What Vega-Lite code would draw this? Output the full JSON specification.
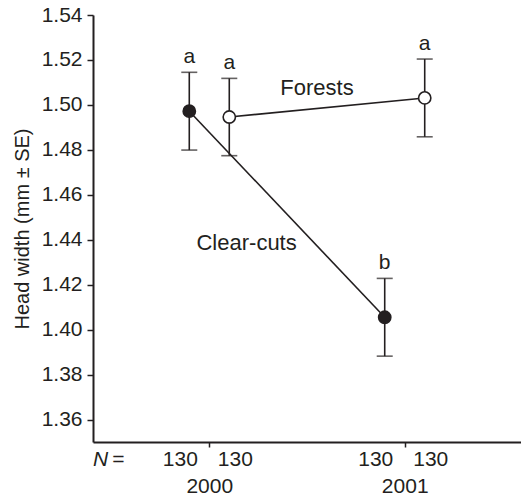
{
  "$schema": "https://vega.github.io/schema/vega-lite/v6.json",
  "width": 428,
  "height": 427,
  "autosize": {"type": "none"},
  "padding": {"left": 93, "top": 15, "right": 0, "bottom": 56},
  "background": "white",
  "config": {
    "view": {"stroke": null},
    "font": "Liberation Sans",
    "text": {"font": "Liberation Sans", "fontSize": 21, "color": "#231f20"},
    "axis": {
      "domainColor": "#231f20",
      "domainWidth": 2,
      "tickColor": "#231f20",
      "tickWidth": 1.5,
      "labelColor": "#231f20",
      "labelFont": "Liberation Sans",
      "labelFontSize": 21,
      "titleColor": "#231f20",
      "titleFont": "Liberation Sans",
      "titleFontSize": 20,
      "titleFontWeight": "normal",
      "grid": false
    }
  },
  "datasets": {
    "means": [
      {"year": 2000, "habitat": "Clear-cuts", "mean": 1.4972, "lo": 1.4799, "hi": 1.5145, "n": 130, "letter": "a"},
      {"year": 2000, "habitat": "Forests", "mean": 1.4946, "lo": 1.4774, "hi": 1.5118, "n": 130, "letter": "a"},
      {"year": 2001, "habitat": "Clear-cuts", "mean": 1.4055, "lo": 1.3882, "hi": 1.4228, "n": 130, "letter": "b"},
      {"year": 2001, "habitat": "Forests", "mean": 1.5031, "lo": 1.4858, "hi": 1.5204, "n": 130, "letter": "a"}
    ],
    "labels": [
      {"x": 2000.551, "y": 1.5075, "label": "Forests"},
      {"x": 2000.191, "y": 1.4387, "label": "Clear-cuts"}
    ]
  },
  "resolve": {"scale": {"x": "independent"}, "axis": {"x": "independent"}},
  "layer": [
    {
      "data": {"name": "means"},
      "mark": {"type": "line", "color": "#231f20", "strokeWidth": 1.6},
      "encoding": {
        "x": {
          "field": "year", "type": "ordinal",
          "scale": {"type": "point", "domain": [2000, 2001], "padding": 0.595},
          "axis": {"title": null, "tickSize": 5, "labelPadding": 28, "labelAngle": 0, "domainWidth": 2}
        },
        "y": {
          "field": "mean", "type": "quantitative",
          "scale": {"domain": [1.35, 1.54], "nice": false, "zero": false},
          "axis": {"values": [1.36, 1.38, 1.4, 1.42, 1.44, 1.46, 1.48, 1.5, 1.52, 1.54], "format": ".2f", "title": "Head width (mm ± SE)", "tickSize": 6, "labelPadding": 5, "titlePadding": 9}
        },
        "xOffset": {"field": "habitat", "type": "nominal", "scale": {"domain": ["Clear-cuts", "Forests"], "range": [-40, 40]}},
        "detail": {"field": "habitat"}
      }
    },
    {
      "data": {"name": "means"},
      "mark": {"type": "rule", "color": "#231f20", "strokeWidth": 1.6},
      "encoding": {
        "x": {"field": "year", "type": "ordinal", "scale": {"type": "point", "domain": [2000, 2001], "padding": 0.595}, "axis": null},
        "y": {"field": "lo", "type": "quantitative"},
        "y2": {"field": "hi"},
        "xOffset": {"field": "habitat", "type": "nominal", "scale": {"domain": ["Clear-cuts", "Forests"], "range": [-40, 40]}}
      }
    },
    {
      "data": {"name": "means"},
      "mark": {"type": "tick", "orient": "horizontal", "color": "#231f20", "size": 16, "thickness": 1.6},
      "encoding": {
        "x": {"field": "year", "type": "ordinal", "scale": {"type": "point", "domain": [2000, 2001], "padding": 0.595}, "axis": null},
        "y": {"field": "lo", "type": "quantitative"},
        "xOffset": {"field": "habitat", "type": "nominal", "scale": {"domain": ["Clear-cuts", "Forests"], "range": [-40, 40]}}
      }
    },
    {
      "data": {"name": "means"},
      "mark": {"type": "tick", "orient": "horizontal", "color": "#231f20", "size": 16, "thickness": 1.6},
      "encoding": {
        "x": {"field": "year", "type": "ordinal", "scale": {"type": "point", "domain": [2000, 2001], "padding": 0.595}, "axis": null},
        "y": {"field": "hi", "type": "quantitative"},
        "xOffset": {"field": "habitat", "type": "nominal", "scale": {"domain": ["Clear-cuts", "Forests"], "range": [-40, 40]}}
      }
    },
    {
      "data": {"name": "means"},
      "mark": {"type": "point", "shape": "circle", "filled": true, "size": 150, "stroke": "#231f20", "strokeWidth": 1.6, "opacity": 1},
      "encoding": {
        "x": {"field": "year", "type": "ordinal", "scale": {"type": "point", "domain": [2000, 2001], "padding": 0.595}, "axis": null},
        "y": {"field": "mean", "type": "quantitative"},
        "xOffset": {"field": "habitat", "type": "nominal", "scale": {"domain": ["Clear-cuts", "Forests"], "range": [-40, 40]}},
        "fill": {"field": "habitat", "type": "nominal", "scale": {"domain": ["Clear-cuts", "Forests"], "range": ["#231f20", "#ffffff"]}, "legend": null}
      }
    },
    {
      "data": {"name": "means"},
      "mark": {"type": "text", "baseline": "alphabetic", "align": "center", "dy": -9.5},
      "encoding": {
        "x": {"field": "year", "type": "ordinal", "scale": {"type": "point", "domain": [2000, 2001], "padding": 0.595}, "axis": null},
        "y": {"field": "hi", "type": "quantitative"},
        "xOffset": {"field": "habitat", "type": "nominal", "scale": {"domain": ["Clear-cuts", "Forests"], "range": [-40, 40]}},
        "text": {"field": "letter"}
      }
    },
    {
      "data": {"name": "means"},
      "transform": [{"filter": "datum.habitat === 'Clear-cuts'"}],
      "mark": {"type": "text", "baseline": "middle", "align": "center", "dx": -29, "clip": false},
      "encoding": {
        "x": {"field": "year", "type": "ordinal", "scale": {"type": "point", "domain": [2000, 2001], "padding": 0.595}, "axis": null},
        "y": {"datum": 1.342, "type": "quantitative"},
        "text": {"field": "n"}
      }
    },
    {
      "data": {"name": "means"},
      "transform": [{"filter": "datum.habitat === 'Forests'"}],
      "mark": {"type": "text", "baseline": "middle", "align": "center", "dx": 26, "clip": false},
      "encoding": {
        "x": {"field": "year", "type": "ordinal", "scale": {"type": "point", "domain": [2000, 2001], "padding": 0.595}, "axis": null},
        "y": {"datum": 1.342, "type": "quantitative"},
        "text": {"field": "n"}
      }
    },
    {
      "data": {"values": [{"x": 1999.405, "y": 1.342, "label": "N"}]},
      "mark": {"type": "text", "baseline": "middle", "align": "left", "fontStyle": "italic", "clip": false},
      "encoding": {
        "x": {"field": "x", "type": "quantitative", "scale": {"domain": [1999.405, 2001.595], "nice": false, "zero": false}, "axis": null},
        "y": {"field": "y", "type": "quantitative"},
        "text": {"field": "label"}
      }
    },
    {
      "data": {"values": [{"x": 1999.535, "y": 1.342, "label": "="}]},
      "mark": {"type": "text", "baseline": "middle", "align": "center", "clip": false},
      "encoding": {
        "x": {"field": "x", "type": "quantitative", "scale": {"domain": [1999.405, 2001.595], "nice": false, "zero": false}, "axis": null},
        "y": {"field": "y", "type": "quantitative"},
        "text": {"field": "label"}
      }
    },
    {
      "data": {"name": "labels"},
      "mark": {"type": "text", "baseline": "middle", "align": "center", "fontSize": 22},
      "encoding": {
        "x": {"field": "x", "type": "quantitative", "scale": {"domain": [1999.405, 2001.595], "nice": false, "zero": false}, "axis": null},
        "y": {"field": "y", "type": "quantitative"},
        "text": {"field": "label"}
      }
    }
  ]
}
